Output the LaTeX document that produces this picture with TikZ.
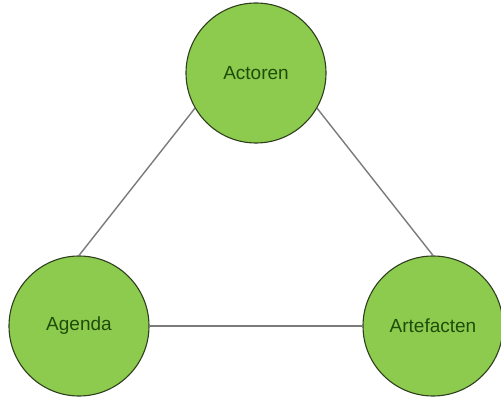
\documentclass[tikz,border=0pt]{standalone}
\usepackage{fontspec}
\setmainfont{Liberation Sans}
\definecolor{leafgreen}{HTML}{8DCB4E}
\definecolor{leafrim}{HTML}{2E3F1E}
\definecolor{leaftext}{HTML}{1E4D0A}
\definecolor{linkgray}{HTML}{7A7A7A}
\tikzset{x=1pt,y=-1pt,
    topic/.style={circle,draw=leafrim,line width=1.1pt,fill=leafgreen,
        minimum size=140pt,inner sep=0pt,text=leaftext,
        font=\fontsize{19}{22}\selectfont},
    link/.style={draw=linkgray,line width=1.4pt},
    }
\begin{document}
\begin{tikzpicture}
\useasboundingbox (0,0) rectangle (501,398);
% the three corners
\node[topic] (actoren) at (256,73) {Actoren};
\node[topic] (agenda) at (79,326) {Agenda};
\node[topic] (artefacten) at (433,326) {Artefacten};
% links
\draw[link] (actoren.210) -- (agenda.north);
\draw[link] (actoren.330) -- (artefacten.north);
\draw[link] (agenda.east) -- (artefacten.west);
\end{tikzpicture}
\end{document}
